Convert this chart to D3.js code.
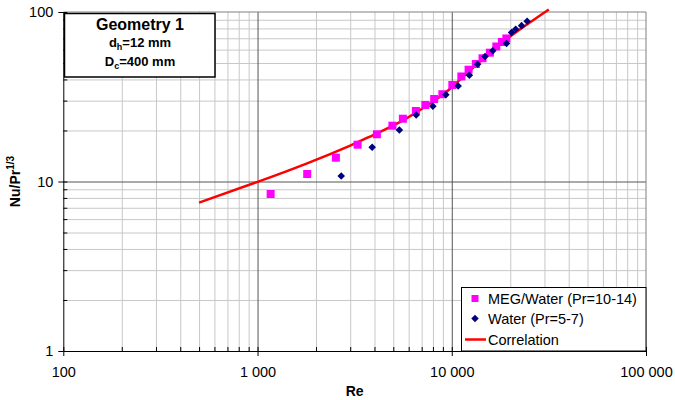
<!DOCTYPE html>
<html>
<head>
<meta charset="utf-8">
<script src="https://cdn.jsdelivr.net/npm/d3@7"></script>
<style>
  html, body { margin: 0; padding: 0; background: #fff; }
  svg { display: block; font-family: "Liberation Sans", Arial, sans-serif; }
</style>
</head>
<body>
<svg id="chart" width="675" height="400"></svg>
<script>
// ---- data ----
const megRe = [1168, 1802, 2532, 3275, 4116, 4947, 5602, 6535, 7313, 8118, 8944, 10070, 11205, 12205, 13305, 14400, 15710, 16960, 18105, 19100];
const megNu = [8.44, 11.07, 13.82, 16.49, 18.99, 21.34, 23.47, 26.06, 28.27, 30.67, 32.73, 37.10, 41.65, 45.66, 49.34, 53.33, 57.54, 62.58, 66.53, 69.8];
const waterRe = [2697, 3892, 5374, 6558, 7993, 9327, 10790, 12320, 13590, 14840, 16270, 19140, 20320, 21330, 22870, 24430];
const waterNu = [10.78, 15.9, 20.13, 24.7, 27.8, 32.5, 36.6, 42.4, 49.1, 54.7, 59.0, 65.2, 75.7, 79.1, 83.1, 88.1];
const corrRe = [500, 1000, 1800, 3000, 3940, 5850, 8690, 10000, 13300, 19100, 31600];
const corrNu = [7.5, 9.95, 12.8, 16.3, 18.8, 23.6, 31.6, 36, 48.5, 69, 103.5];
const xMajor = [100, 1000, 10000, 100000];
const yMajor = [1, 10, 100];
const xMinor = [200, 300, 400, 500, 600, 700, 800, 900, 2000, 3000, 4000, 5000, 6000, 7000, 8000, 9000, 20000, 30000, 40000, 50000, 60000, 70000, 80000, 90000];
const yMinor = [2, 3, 4, 5, 6, 7, 8, 9, 20, 30, 40, 50, 60, 70, 80, 90];
const legendLabels = ["MEG/Water (Pr=10-14)", "Water (Pr=5-7)", "Correlation"];

// ---- layout ----
const L = 63.3, R = 646, T = 12, B = 351;
const svg = d3.select("#chart");
const x = d3.scaleLog().domain([100, 100000]).range([L, R]);
const y = d3.scaleLog().domain([1, 100]).range([B, T]);
const fmt = d3.formatLocale({decimal: ",", thousands: " ", grouping: [3], currency: ["", ""]}).format(",");

// minor gridlines
svg.append("g").attr("transform", `translate(0,${B})`)
  .call(d3.axisBottom(x).tickValues(xMinor).tickSize(-(B - T)).tickFormat(""))
  .call(g => g.select(".domain").remove())
  .call(g => g.selectAll("line").attr("stroke", "#c8c8c8"));
svg.append("g").attr("transform", `translate(${L},0)`)
  .call(d3.axisLeft(y).tickValues(yMinor).tickSize(-(R - L)).tickFormat(""))
  .call(g => g.select(".domain").remove())
  .call(g => g.selectAll("line").attr("stroke", "#c8c8c8"));
// major gridlines
svg.append("g").attr("transform", `translate(0,${B})`)
  .call(d3.axisBottom(x).tickValues([1000, 10000]).tickSize(-(B - T)).tickFormat(""))
  .call(g => g.select(".domain").remove())
  .call(g => g.selectAll("line").attr("stroke", "#555"));
svg.append("g").attr("transform", `translate(${L},0)`)
  .call(d3.axisLeft(y).tickValues([10]).tickSize(-(R - L)).tickFormat(""))
  .call(g => g.select(".domain").remove())
  .call(g => g.selectAll("line").attr("stroke", "#555"));

// top and right border
svg.append("path").attr("d", `M${L},${T}H${R}V${B}`).attr("fill", "none").attr("stroke", "#808080");

// inner ticks
svg.append("g").attr("transform", `translate(0,${B})`)
  .call(d3.axisBottom(x).tickValues(xMinor.concat(xMajor)).tickSize(-4).tickSizeOuter(0).tickFormat(""))
  .call(g => g.select(".domain").remove());
svg.append("g").attr("transform", `translate(${L},0)`)
  .call(d3.axisLeft(y).tickValues(yMinor.concat(yMajor)).tickSize(-4).tickSizeOuter(0).tickFormat(""))
  .call(g => g.select(".domain").remove());

// axes with labels
svg.append("g").attr("transform", `translate(0,${B})`)
  .call(d3.axisBottom(x).tickValues(xMajor).tickSize(5).tickSizeOuter(0).tickPadding(11).tickFormat(d => fmt(d)))
  .call(g => g.selectAll("text").attr("font-size", 14.5).attr("fill", "#000").attr("font-family", "Liberation Sans, Arial, sans-serif"))
  .call(g => g.select(".domain").attr("stroke", "#000"));
svg.append("g").attr("transform", `translate(${L},0)`)
  .call(d3.axisLeft(y).tickValues(yMajor).tickSize(5).tickSizeOuter(0).tickPadding(5).tickFormat(d => String(d)))
  .call(g => g.selectAll("text").attr("font-size", 14.5).attr("fill", "#000").attr("font-family", "Liberation Sans, Arial, sans-serif"))
  .call(g => g.select(".domain").attr("stroke", "#000"));

// correlation line
const corr = corrRe.map((r, i) => [r, corrNu[i]]);
svg.append("path").datum(corr)
  .attr("d", d3.line().x(d => x(d[0])).y(d => y(d[1])).curve(d3.curveNatural))
  .attr("fill", "none").attr("stroke", "#ff0000").attr("stroke-width", 2.5);

// MEG squares
const meg = megRe.map((r, i) => [r, megNu[i]]);
svg.append("g").selectAll("rect").data(meg).join("rect")
  .attr("x", d => x(d[0]) - 4).attr("y", d => y(d[1]) - 4)
  .attr("width", 8).attr("height", 8).attr("fill", "#ff00ff");

// Water diamonds
const water = waterRe.map((r, i) => [r, waterNu[i]]);
const diamond = d3.symbol().type(d3.symbolDiamond2).size(36);
svg.append("g").selectAll("path").data(water).join("path")
  .attr("transform", d => `translate(${x(d[0])},${y(d[1])})`)
  .attr("d", diamond).attr("fill", "#000080");

// axis titles
svg.append("text").attr("x", (L + R) / 2).attr("y", 396).attr("text-anchor", "middle")
  .attr("font-size", 14).attr("font-weight", "bold").text("Re");
const yt = svg.append("text").attr("transform", `translate(20,${(T + B) / 2}) rotate(-90)`)
  .attr("text-anchor", "middle").attr("font-size", 14).attr("font-weight", "bold");
yt.append("tspan").text("Nu/Pr");
yt.append("tspan").attr("font-size", 10).attr("dy", -6).text("1/3");

// text box
svg.append("rect").attr("x", 64.5).attr("y", 13.5).attr("width", 150.5).attr("height", 63.5)
  .attr("fill", "#fff").attr("stroke", "#000").attr("stroke-width", 1.5);
svg.append("text").attr("x", 140).attr("y", 30).attr("text-anchor", "middle")
  .attr("font-size", 16).attr("font-weight", "bold").text("Geometry 1");
const t1 = svg.append("text").attr("x", 140).attr("y", 47).attr("text-anchor", "middle")
  .attr("font-size", 13).attr("font-weight", "bold");
t1.append("tspan").text("d");
t1.append("tspan").attr("font-size", 9).attr("dy", 3).text("h");
t1.append("tspan").attr("dy", -3).text("=12 mm");
const t2 = svg.append("text").attr("x", 140).attr("y", 66).attr("text-anchor", "middle")
  .attr("font-size", 13).attr("font-weight", "bold");
t2.append("tspan").text("D");
t2.append("tspan").attr("font-size", 9).attr("dy", 3).text("c");
t2.append("tspan").attr("dy", -3).text("=400 mm");

// legend
const lg = svg.append("g");
lg.append("rect").attr("x", 461.5).attr("y", 287.5).attr("width", 184.5).attr("height", 63.5)
  .attr("fill", "#fff").attr("stroke", "#000");
const rows = [298.5, 318.5, 339.5];
lg.append("rect").attr("x", 471.5).attr("y", rows[0] - 3.5).attr("width", 7).attr("height", 7).attr("fill", "#ff00ff");
lg.append("path").attr("transform", `translate(475,${rows[1]})`).attr("d", diamond).attr("fill", "#000080");
lg.append("line").attr("x1", 465).attr("x2", 486).attr("y1", rows[2]).attr("y2", rows[2])
  .attr("stroke", "#ff0000").attr("stroke-width", 2.5);
lg.selectAll("text.lt").data(legendLabels).join("text").attr("class", "lt")
  .attr("x", 488).attr("y", (d, i) => rows[i] + 5).attr("font-size", 14.5).text(d => d);
</script>
</body>
</html>
